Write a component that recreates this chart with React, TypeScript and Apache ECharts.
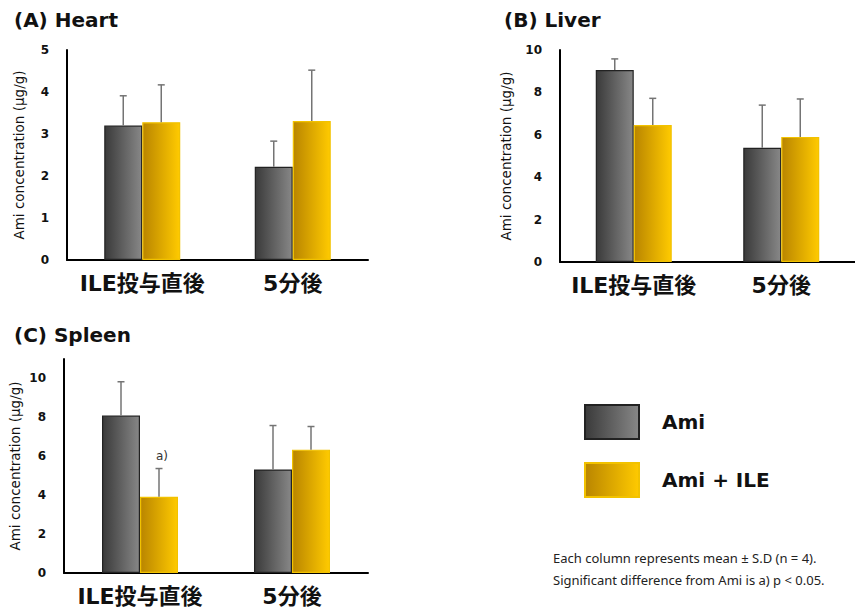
import React, { useEffect, useRef } from "react";
import * as echarts from "echarts";

const categories = ["ILE投与直後", "5分後"];
const seriesNames = ["Ami", "Ami + ILE"];

const heartAmi = [3.2, 2.22];
const heartAmiSD = [0.71, 0.61];
const heartIle = [3.28, 3.31];
const heartIleSD = [0.89, 1.21];

const liverAmi = [9.06, 5.39];
const liverAmiSD = [0.52, 2.01];
const liverIle = [6.46, 5.9];
const liverIleSD = [1.26, 1.79];

const spleenAmi = [8.09, 5.32];
const spleenAmiSD = [1.74, 2.26];
const spleenIle = [3.92, 6.34];
const spleenIleSD = [1.45, 1.19];
const spleenIleSig = ["a)", ""];

const panelTitles = ["(A) Heart", "(B) Liver", "(C) Spleen"];
const yAxisName = "Ami concentration (μg/g)";
const footnotes = [
  "Each column represents mean ± S.D (n = 4).",
  "Significant difference from Ami is a) p < 0.05.",
];

const FONT = "'DejaVu Sans', 'Noto Sans CJK JP', sans-serif";

const grayFill = new echarts.graphic.LinearGradient(0, 0, 1, 0, [
  { offset: 0, color: "#3a3a3a" },
  { offset: 1, color: "#878787" },
]);
const goldFill = new echarts.graphic.LinearGradient(0, 0, 1, 0, [
  { offset: 0, color: "#b98500" },
  { offset: 1, color: "#ffca00" },
]);

const BAR_W = 38;

function errSeries(gridIdx: number, means: number[], sds: number[], offset: number, sig?: string[]) {
  return {
    type: "custom",
    xAxisIndex: gridIdx,
    yAxisIndex: gridIdx,
    silent: true,
    z: 5,
    data: means.map((m, i) => [i, m, m + sds[i]]),
    renderItem: (params: any, api: any) => {
      const base = api.coord([api.value(0), api.value(1)]);
      const top = api.coord([api.value(0), api.value(2)]);
      const x = base[0] + offset;
      const st = { stroke: "#747474", lineWidth: 1.5 };
      const children: any[] = [
        { type: "line", shape: { x1: x, y1: base[1], x2: x, y2: top[1] }, style: st },
        { type: "line", shape: { x1: x - 3.5, y1: top[1], x2: x + 3.5, y2: top[1] }, style: st },
      ];
      const s = sig ? sig[params.dataIndex] : "";
      if (s) {
        children.push({
          type: "text",
          x: x + 3,
          y: top[1] - 7,
          style: {
            text: s,
            fill: "#333",
            fontSize: 12,
            fontFamily: FONT,
            align: "center",
            verticalAlign: "bottom",
          },
        });
      }
      return { type: "group", children };
    },
  };
}

function barSeries(gridIdx: number, name: string, data: number[], fill: any, border: string) {
  return {
    type: "bar",
    name,
    xAxisIndex: gridIdx,
    yAxisIndex: gridIdx,
    barWidth: BAR_W,
    barGap: "0%",
    data,
    itemStyle: { color: fill, borderColor: border, borderWidth: 1.2 },
  };
}

export default function App() {
  const ref = useRef<HTMLDivElement>(null);
  useEffect(() => {
    if (!ref.current) return;
    const chart = echarts.init(ref.current, undefined, { renderer: "svg" });
    const grids = [
      { left: 67, top: 50, width: 301, height: 210 },
      { left: 560, top: 50, width: 304, height: 212 },
      { left: 64, top: 359, width: 304, height: 214 },
    ];
    const yMax = [5, 10, 11];
    const yInt = [1, 2, 2];
    const nameGaps = [41, 47, 42];
    const option: any = {
      animation: false,
      backgroundColor: "#ffffff",
      title: [
        { text: panelTitles[0], left: 14, top: 10 },
        { text: panelTitles[1], left: 504, top: 10 },
        { text: panelTitles[2], left: 14, top: 325 },
      ].map((t) => ({
        ...t,
        padding: 0,
        textStyle: { fontFamily: FONT, fontSize: 20, fontWeight: "bold", color: "#111" },
      })),
      grid: grids,
      xAxis: grids.map((_, i) => ({
        type: "category",
        gridIndex: i,
        data: categories,
        axisLine: { lineStyle: { color: "#000", width: 2 } },
        axisTick: { show: false },
        axisLabel: {
          interval: 0,
          color: "#111",
          fontFamily: FONT,
          fontSize: 22,
          fontWeight: "bold",
          margin: 12,
        },
      })),
      yAxis: grids.map((_, i) => ({
        type: "value",
        gridIndex: i,
        min: 0,
        max: yMax[i],
        interval: yInt[i],
        name: yAxisName,
        nameLocation: "middle",
        nameGap: nameGaps[i],
        nameTextStyle: { fontFamily: FONT, fontSize: 13.5, color: "#111" },
        axisLine: { show: true, lineStyle: { color: "#000", width: 2 } },
        axisTick: { show: false },
        splitLine: { show: false },
        axisLabel: {
          color: "#111",
          fontFamily: FONT,
          fontSize: 12,
          fontWeight: "bold",
          margin: 18,
          showMaxLabel: i === 2 ? false : true,
        },
      })),
      legend: {
        data: seriesNames,
        orient: "vertical",
        left: 584,
        top: 404,
        padding: 0,
        itemWidth: 54,
        itemHeight: 34,
        itemGap: 22,
        icon: "rect",
        textStyle: {
          fontFamily: FONT,
          fontSize: 20,
          fontWeight: "bold",
          color: "#111",
          padding: [0, 0, 0, 18],
        },
      },
      graphic: footnotes.map((t, i) => ({
        type: "text",
        left: 553,
        top: 551 + i * 22,
        style: { text: t, fill: "#222", fontSize: 13, fontFamily: "'Noto Sans', sans-serif" },
      })),
      series: [
        barSeries(0, seriesNames[0], heartAmi, grayFill, "#222"),
        barSeries(0, seriesNames[1], heartIle, goldFill, "#f2c200"),
        errSeries(0, heartAmi, heartAmiSD, -BAR_W / 2),
        errSeries(0, heartIle, heartIleSD, BAR_W / 2),
        barSeries(1, seriesNames[0], liverAmi, grayFill, "#222"),
        barSeries(1, seriesNames[1], liverIle, goldFill, "#f2c200"),
        errSeries(1, liverAmi, liverAmiSD, -BAR_W / 2),
        errSeries(1, liverIle, liverIleSD, BAR_W / 2),
        barSeries(2, seriesNames[0], spleenAmi, grayFill, "#222"),
        barSeries(2, seriesNames[1], spleenIle, goldFill, "#f2c200"),
        errSeries(2, spleenAmi, spleenAmiSD, -BAR_W / 2),
        errSeries(2, spleenIle, spleenIleSD, BAR_W / 2, spleenIleSig),
      ],
    };
    chart.setOption(option);
    return () => chart.dispose();
  }, []);
  return <div ref={ref} style={{ width: 855, height: 608, position: "absolute", left: 0, top: 0 }} />;
}
